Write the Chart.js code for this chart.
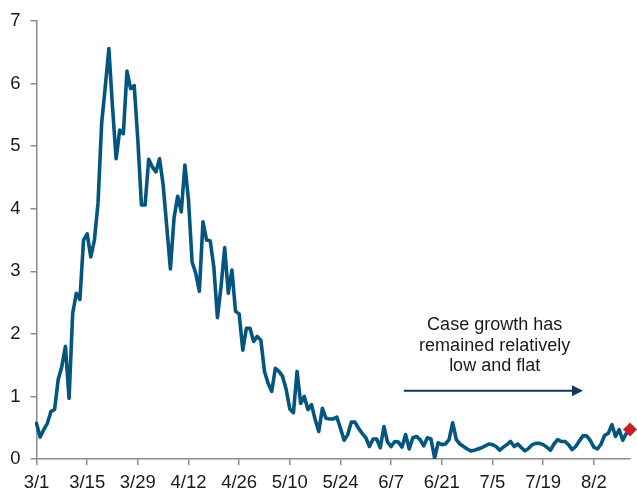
<!DOCTYPE html>
<html>
<head>
<meta charset="utf-8">
<script src="https://cdn.jsdelivr.net/npm/chart.js@4.4.1/dist/chart.umd.min.js"></script>
<style>
  html, body { margin: 0; padding: 0; background: #fff; }
  .wrap { width: 637px; height: 490px; position: relative; }
</style>
</head>
<body>
<div class="wrap"><canvas id="growthChart"></canvas></div>
<script>
// daily values from 3/1 to 8/12
const growth = [
  0.57, 0.35, 0.47, 0.57, 0.76, 0.79, 1.27, 1.48, 1.80, 0.97,
  2.33, 2.65, 2.55, 3.50, 3.60, 3.23, 3.50, 4.09, 5.36, 5.95,
  6.56, 5.63, 4.80, 5.26, 5.20, 6.20, 5.92, 5.97, 5.10, 4.06,
  4.06, 4.79, 4.67, 4.59, 4.80, 4.38, 3.71, 3.04, 3.85, 4.20,
  3.95, 4.70, 4.14, 3.15, 2.97, 2.68, 3.79, 3.50, 3.49, 3.07,
  2.26, 2.76, 3.38, 2.65, 3.02, 2.36, 2.32, 1.74, 2.09, 2.09,
  1.88, 1.96, 1.90, 1.40, 1.21, 1.08, 1.45, 1.40, 1.32, 1.11,
  0.80, 0.74, 1.40, 0.89, 1.00, 0.79, 0.87, 0.63, 0.44, 0.81,
  0.65, 0.64, 0.64, 0.67, 0.49, 0.30, 0.39, 0.59, 0.59, 0.49,
  0.41, 0.34, 0.20, 0.32, 0.32, 0.18, 0.52, 0.27, 0.20, 0.28,
  0.27, 0.19, 0.39, 0.16, 0.34, 0.36, 0.31, 0.21, 0.34, 0.32,
  0.02, 0.26, 0.23, 0.24, 0.31, 0.58, 0.31, 0.24, 0.20, 0.16,
  0.13, 0.14, 0.16, 0.18, 0.21, 0.24, 0.23, 0.20, 0.14, 0.19,
  0.23, 0.28, 0.20, 0.24, 0.18, 0.13, 0.17, 0.23, 0.25, 0.25,
  0.23, 0.19, 0.14, 0.24, 0.31, 0.28, 0.28, 0.23, 0.15, 0.20,
  0.29, 0.37, 0.37, 0.30, 0.19, 0.16, 0.24, 0.38, 0.41, 0.55,
  0.36, 0.47, 0.30, 0.41, 0.47
];
const latestValue = 0.47;
const tickLabels = ["3/1", "3/15", "3/29", "4/12", "4/26", "5/10", "5/24", "6/7", "6/21", "7/5", "7/19", "8/2"];
const yTicks = [0, 1, 2, 3, 4, 5, 6, 7];
const noteLines = ["Case growth has", "remained relatively", "low and flat"];

// one label per day
const days = [];
const start = new Date(2020, 2, 1);
for (let i = 0; i < growth.length; i++) {
  const d = new Date(start);
  d.setDate(start.getDate() + i);
  days.push((d.getMonth() + 1) + "/" + d.getDate());
}
const latestPoint = growth.map((v, i) => i === growth.length - 1 ? latestValue : null);

const lineColor = "#04567f";
const axisColor = "#8c8c8c";
const fontFamily = "'Liberation Sans', Arial, sans-serif";

// Text + arrow note on the right
const notePlugin = {
  id: "note",
  afterDraw(chart) {
    const { ctx, scales } = chart;
    const x = scales.x, y = scales.y;
    const cx = x.getPixelForValue(126.6);
    ctx.save();
    ctx.fillStyle = "#1a1a1a";
    ctx.font = "18px " + fontFamily;
    ctx.textAlign = "center";
    ctx.textBaseline = "middle";
    const lineVals = [2.14, 1.80, 1.49];
    noteLines.forEach((t, i) => ctx.fillText(t, cx, y.getPixelForValue(lineVals[i])));

    const ay = y.getPixelForValue(1.09);
    const x0 = x.getPixelForValue(101.5);
    const x1 = x.getPixelForValue(151);
    ctx.strokeStyle = "#15395e";
    ctx.fillStyle = "#15395e";
    ctx.lineWidth = 2;
    ctx.beginPath();
    ctx.moveTo(x0, ay);
    ctx.lineTo(x1 - 8, ay);
    ctx.stroke();
    ctx.beginPath();
    ctx.moveTo(x1, ay);
    ctx.lineTo(x1 - 11, ay - 5.5);
    ctx.lineTo(x1 - 11, ay + 5.5);
    ctx.closePath();
    ctx.fill();
    ctx.restore();
  }
};

new Chart(document.getElementById("growthChart"), {
  type: "line",
  data: {
    labels: days,
    datasets: [
      {
        data: latestPoint,
        showLine: false,
        pointStyle: "rectRot",
        pointRadius: 7,
        pointBackgroundColor: "#c8202b",
        pointBorderColor: "#c8202b",
        pointBorderWidth: 0
      },
      {
        data: growth,
        borderColor: lineColor,
        borderWidth: 3.6,
        pointRadius: 0,
        tension: 0,
        borderJoinStyle: "round",
        borderCapStyle: "round"
      }
    ]
  },
  options: {
    responsive: true,
    maintainAspectRatio: false,
    animation: false,
    layout: { padding: { top: 20, right: 7, left: 0, bottom: 0 } },
    plugins: {
      legend: { display: false },
      tooltip: { enabled: false }
    },
    scales: {
      x: {
        afterFit: s => { s.height = 31; },
        border: { color: axisColor, width: 1.5 },
        grid: {
          drawOnChartArea: false,
          drawTicks: true,
          tickLength: 6,
          tickColor: axisColor,
          lineWidth: 1.5
        },
        ticks: {
          autoSkip: false,
          maxRotation: 0,
          padding: 7,
          color: "#1a1a1a",
          font: { family: fontFamily, size: 18.5 },
          callback: (v, i) => tickLabels.includes(days[i]) && i % 14 === 0 ? days[i] : null
        }
      },
      y: {
        min: 0,
        max: 7,
        afterFit: s => { s.width = 36.5; },
        afterBuildTicks: s => { s.ticks = yTicks.map(v => ({ value: v })); },
        border: { color: axisColor, width: 1.5 },
        grid: {
          drawOnChartArea: false,
          drawTicks: true,
          tickLength: 6,
          tickColor: axisColor,
          lineWidth: 1.5
        },
        ticks: {
          padding: 10,
          color: "#1a1a1a",
          font: { family: fontFamily, size: 18.5 }
        }
      }
    }
  },
  plugins: [notePlugin]
});
</script>
</body>
</html>
